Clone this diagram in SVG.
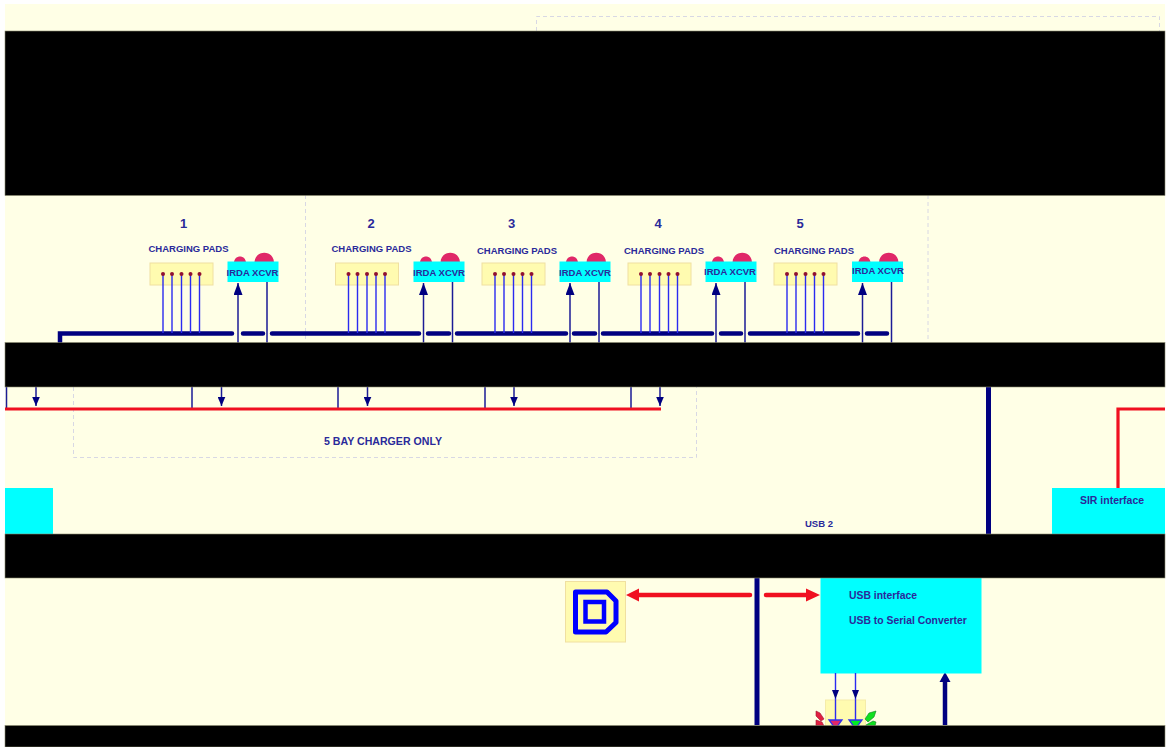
<svg xmlns="http://www.w3.org/2000/svg" width="1170" height="747" viewBox="0 0 1170 747">
<style>
text{font-family:"Liberation Sans",Arial,sans-serif;font-weight:700;fill:#2a2a9a}
.lbl{font-size:9.500px;text-anchor:middle}
.num{font-size:13px;text-anchor:middle}
.irda{font-size:9.500px;text-anchor:middle}
.pad{fill:#fffbb0;stroke:#f0e0a0;stroke-width:1}
.cy{fill:#00ffff}
.bus{stroke:#000080;stroke-width:4.500;stroke-linecap:round;fill:none}
.pin{stroke:#2b2bf0;stroke-width:1.400;fill:none}
.thin{stroke:#1c1c96;stroke-width:1.500;fill:none}
.dash{fill:none;stroke:#d8d8e4;stroke-width:1;stroke-dasharray:4 3}
.red{stroke:#f01020;fill:none}
.dot{fill:#901030}
.led{fill:#e02868}
.bar{fill:#000;stroke:#8a8a70;stroke-width:.6}
</style>
<defs>
<marker id="ah" markerUnits="userSpaceOnUse" markerWidth="13" markerHeight="9" refX="12" refY="4.500" orient="auto" viewBox="0 0 13 9"><path d="M0 0L12 4.500L0 9Z" fill="#000080"/></marker>
<marker id="ad" markerUnits="userSpaceOnUse" markerWidth="10" markerHeight="8" refX="9.500" refY="4" orient="auto" viewBox="0 0 10 8"><path d="M0 0L9.500 4L0 8Z" fill="#000080"/></marker>
<g id="bay"><rect class="pad" x="0" y="0" width="63" height="22"/>
<g class="pin"><path d="M13 11V70M22 11V70M31.500 11V70M40.500 11V70M49.500 11V70"/></g>
<g class="dot"><circle cx="13" cy="11" r="2"/><circle cx="22" cy="11" r="2"/><circle cx="31.500" cy="11" r="2"/><circle cx="40.500" cy="11" r="2"/><circle cx="49.500" cy="11" r="2"/></g></g>
<g id="ir"><path class="led" d="M6.500 1C7 -7 18 -7 18.500 1ZM27 1C27.500 -12 46 -12 46.500 1Z"/><rect class="cy" x="0" y="0" width="51" height="20.500"/></g>
</defs>
<rect x="5" y="4" width="1160" height="743" fill="#ffffe6"/>
<g id="frames">
<path class="dash" d="M536.500 31V16.500H1159.500V31"/>
<path class="dash" d="M305.500 195V342M928 195V342"/>
<path class="dash" d="M73.500 387V457.500H696.500V387"/>
</g>
<g id="connectors">
<path class="bus" d="M60 342V333.500H232M243 333.500H263M272 333.500H419M428 333.500H449M457 333.500H566M574 333.500H595M603 333.500H712M721 333.500H741M750 333.500H858M867 333.500H887"/>
<g class="thin">
<path d="M238 343V283" marker-end="url(#ah)"/><path d="M423.500 343V283" marker-end="url(#ah)"/><path d="M570 343V283" marker-end="url(#ah)"/><path d="M716 343V283" marker-end="url(#ah)"/><path d="M862.500 343V283" marker-end="url(#ah)"/>
<path d="M267 282V343M452.500 282V343M599 282V343M745 282V343M891.500 282V343"/>
<path d="M6.500 387V408M192 387V408M338 387V408M485 387V408M631 387V408"/>
<path d="M36 387V406" marker-end="url(#ad)"/><path d="M221.500 387V406" marker-end="url(#ad)"/><path d="M367.500 387V406" marker-end="url(#ad)"/><path d="M514 387V406" marker-end="url(#ad)"/><path d="M660 387V406" marker-end="url(#ad)"/>
</g>
<path class="red" stroke-width="3.200" d="M5 409H661"/>
<path class="red" stroke-width="3.200" d="M1118 488V409H1165"/>
<path d="M988.500 387V534" stroke="#000080" stroke-width="5"/>
<path d="M757 578V725" stroke="#000080" stroke-width="5"/>
<path class="red" stroke-width="4.500" stroke-linecap="round" d="M750 595H636M766 595H808"/>
<path d="M626 595L639 588.500V601.500ZM820 595L806 588.500V601.500Z" fill="#f01020"/>
<path d="M945 725V680" stroke="#000080" stroke-width="4.500"/>
<path d="M945 672L950.500 682H939.500Z" fill="#000080"/>
</g>
<g id="bay1"><use href="#bay" x="150" y="263"/><use href="#ir" x="227.500" y="261.500"/><text class="num" x="183.500" y="228">1</text><text class="lbl" x="188.500" y="252">CHARGING PADS</text><text class="irda" x="252.500" y="276">IRDA XCVR</text></g>
<g id="bay2"><use href="#bay" x="335.500" y="263"/><use href="#ir" x="413.500" y="261.500"/><text class="num" x="371" y="228">2</text><text class="lbl" x="371.500" y="252">CHARGING PADS</text><text class="irda" x="439" y="276">IRDA XCVR</text></g>
<g id="bay3"><use href="#bay" x="482" y="263"/><use href="#ir" x="559.500" y="261.500"/><text class="num" x="511.500" y="228">3</text><text class="lbl" x="517" y="254">CHARGING PADS</text><text class="irda" x="585" y="276">IRDA XCVR</text></g>
<g id="bay4"><use href="#bay" x="628" y="263"/><use href="#ir" x="705.500" y="261.500"/><text class="num" x="658" y="228">4</text><text class="lbl" x="664" y="254">CHARGING PADS</text><text class="irda" x="730" y="275">IRDA XCVR</text></g>
<g id="bay5"><use href="#bay" x="774" y="263"/><use href="#ir" x="852" y="261.500"/><text class="num" x="800" y="228">5</text><text class="lbl" x="814" y="254">CHARGING PADS</text><text class="irda" x="878" y="274">IRDA XCVR</text></g>
<text x="383" y="445" style="font-size:10.600px;text-anchor:middle">5 BAY CHARGER ONLY</text>
<text x="819" y="527" style="font-size:9.500px;text-anchor:middle">USB 2</text>
<g id="left-block"><rect class="cy" x="5" y="488" width="48" height="46"/></g>
<g id="sir"><rect class="cy" x="1052" y="488" width="113" height="46"/><text x="1112" y="503.500" style="font-size:10.500px;text-anchor:middle">SIR interface</text></g>
<g id="usb"><rect class="cy" x="820.500" y="578" width="161" height="95.500"/><text x="849" y="598.500" style="font-size:10.400px">USB interface</text><text x="849" y="623.500" style="font-size:10.400px">USB to Serial Converter</text></g>
<g id="chip"><rect class="pad" x="565.500" y="581.500" width="60" height="60.500"/>
<path d="M575.500 592H607L616 601V622.500L606 632H575.500Z" fill="none" stroke="#0000ff" stroke-width="5" stroke-linejoin="round"/>
<rect x="585.500" y="602" width="18.500" height="19.500" fill="none" stroke="#0000ff" stroke-width="4.500"/></g>
<g id="leds"><rect x="825.500" y="700" width="40" height="27" fill="#fffbb0" stroke="#f5eca8"/>
<path class="pin" stroke-width="1.500" d="M835.500 673V720M855.500 673V720"/>
<path d="M832 690H839L835.500 699ZM852 690H859L855.500 699Z" fill="#000080"/>
<path d="M829 720H842L835.500 729Z" fill="#e02868" stroke="#3030f0" stroke-width="1.300"/>
<path d="M849 720H862L855.500 729Z" fill="#00ee20" stroke="#3030f0" stroke-width="1.300"/>
<path d="M816 711L820 713L824 719L821 721L816 716ZM816 720L822 722L824 726H816Z" fill="#e02040" stroke="#a01030" stroke-width=".6"/>
<path d="M865 719L869 713L876 711L874 717L868 722ZM866 725L873 721L876 722L875 726H866Z" fill="#10e020" stroke="#108020" stroke-width=".6"/></g>
<g id="bars">
<rect class="bar" x="5" y="31" width="1160" height="164.500"/>
<rect class="bar" x="5" y="342.500" width="1160" height="44.500"/>
<rect class="bar" x="5" y="534" width="1160" height="44"/>
<rect class="bar" x="5" y="725.500" width="1160" height="21.500"/>
</g>
</svg>
